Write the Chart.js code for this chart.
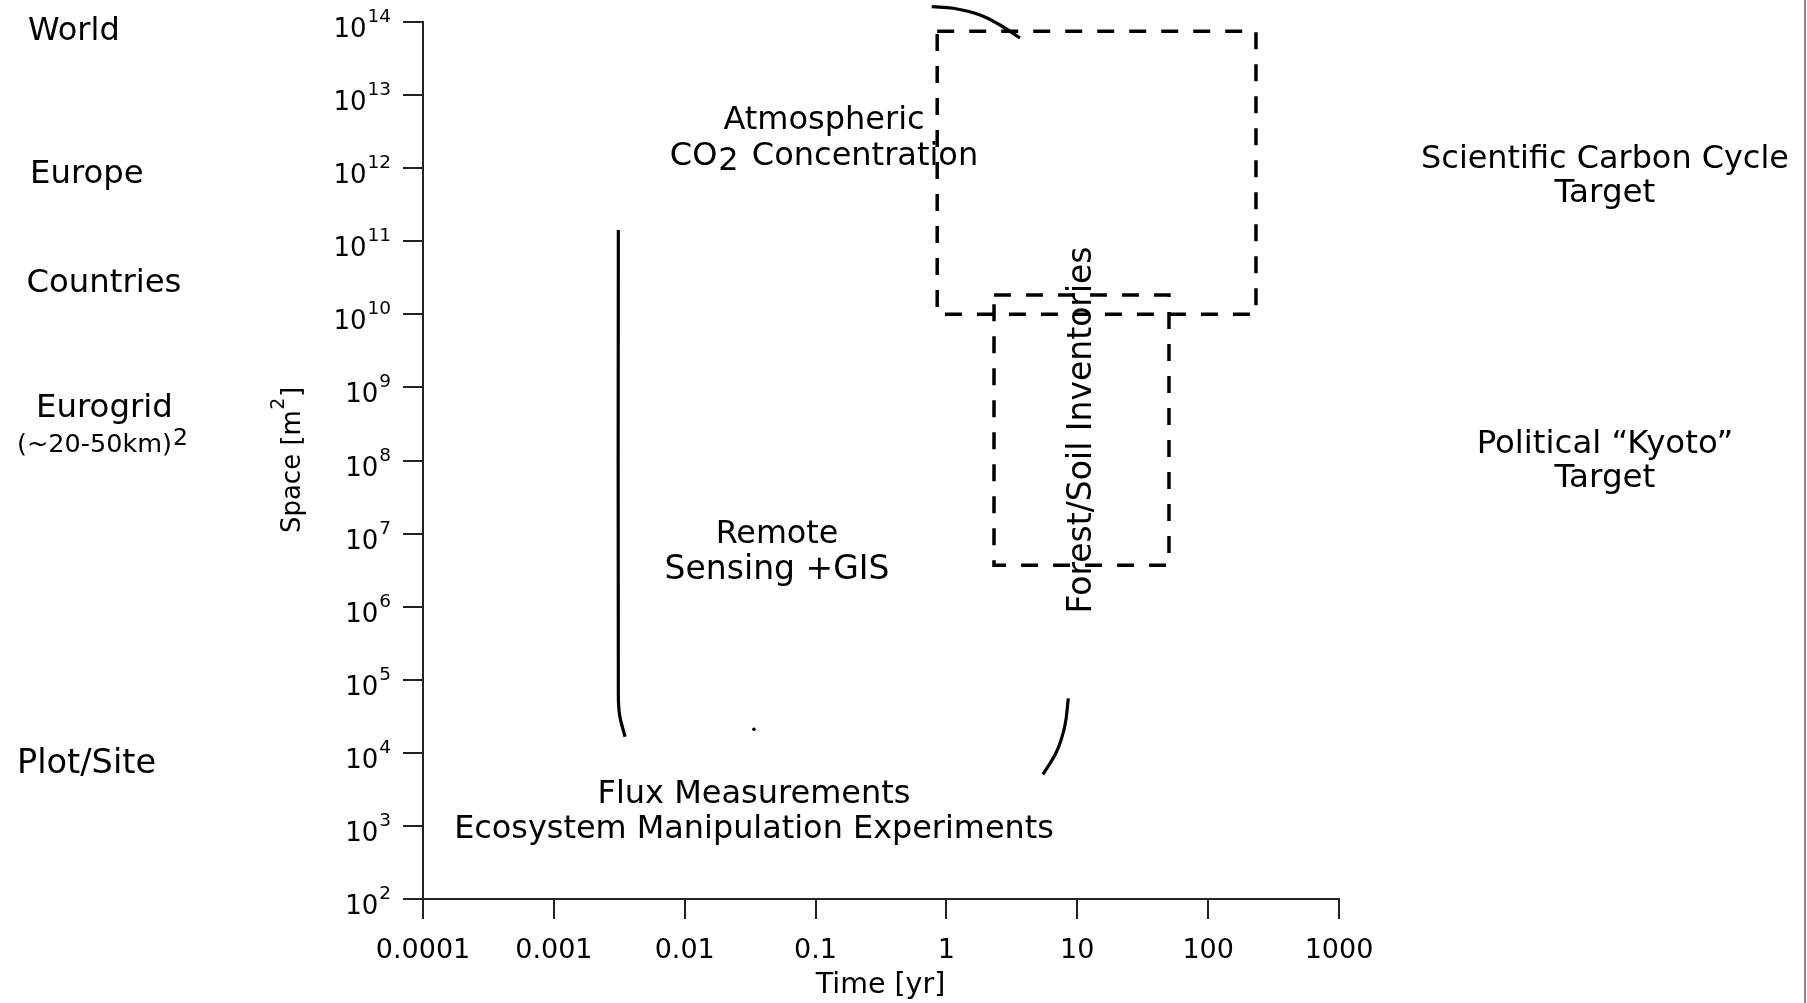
<!DOCTYPE html>
<html>
<head>
<meta charset="utf-8">
<script src="https://cdn.jsdelivr.net/npm/chart.js@4.4.1/dist/chart.umd.min.js"></script>
<style>
  html, body { margin: 0; padding: 0; background: #fff; }
  #wrap { position: relative; width: 1807px; height: 1003px; overflow: hidden; }
  #edge { position: absolute; left: 1804px; top: 0; width: 2px; height: 1003px; background: #8a8a8a; }
  canvas { display: block; }
</style>
</head>
<body>
<div id="wrap">
  <canvas id="scaleChart" width="1807" height="1003"></canvas>
  <div id="edge"></div>
</div>
<script>
// ---- axis ticks ----
const xTickValues = [0.0001, 0.001, 0.01, 0.1, 1, 10, 100, 1000];
const xTickLabels = ['0.0001', '0.001', '0.01', '0.1', '1', '10', '100', '1000'];
const yTickExponents = [2, 3, 4, 5, 6, 7, 8, 9, 10, 11, 12, 13, 14];

// ---- observation domains: time span [yr] and area span [m2] ----
const co2Time = [0.85, 232];
const co2Area = [1.0e10, 7.5e13];

const forestTime = [2.31, 50.2];
const forestArea = [3.7e6, 1.84e10];

// remote sensing bracket (left solid stroke)
const remoteTime = [0.00311, 0.00311, 0.00318, 0.0035];
const remoteArea = [1.43e11, 6.6e4, 3.3e4, 1.66e4];

// arc above the CO2 domain
const arcTopTime = [0.772, 1.128, 1.806, 2.567, 3.65];
const arcTopArea = [1.62e14, 1.54e14, 1.25e14, 9.1e13, 6.04e13];

// flux bracket (lower right arc)
const fluxArcTime = [8.54, 8.03, 6.97, 5.46];
const fluxArcArea = [5.56e4, 2.33e4, 1.05e4, 5070];

// small marker dots
const dotTime = [0.0338, 5050, 5050];
const dotArea = [2.1e4, 6.07e11, 1.58e8];

const FONT = '"DejaVu Sans", Verdana, sans-serif';
const AXIS_COLOR = '#222';

const zip = (xs, ys) => xs.map((x, i) => ({ x: x, y: ys[i] }));
const boxPath = (t, a) => [
  { x: t[0], y: a[1] }, { x: t[1], y: a[1] },
  { x: t[1], y: a[0] }, { x: t[0], y: a[0] },
  { x: t[0], y: a[1] }
];

const dashed = { borderColor: '#000', borderWidth: 3.5, borderDash: [17, 15], tension: 0,
                 pointRadius: 0, showLine: true, fill: false, clip: false, borderJoinStyle: 'miter' };
const solid = { borderColor: '#000', borderWidth: 3.2, tension: 0.4,
                pointRadius: 0, showLine: true, fill: false, clip: false, borderCapStyle: 'butt' };

const textPlugin = {
  id: 'scaleText',
  afterDraw(chart) {
    const ctx = chart.ctx;
    const xs = chart.scales.x, ys = chart.scales.y;
    const put = (str, x, y, size, align) => {
      ctx.font = size + 'px ' + FONT;
      ctx.textAlign = align || 'center';
      ctx.fillText(str, x, y);
    };
    ctx.save();
    ctx.fillStyle = '#000';
    ctx.textBaseline = 'alphabetic';

    // y tick labels as powers of ten
    const right = xs.left - 32;
    yTickExponents.forEach(e => {
      const py = ys.getPixelForValue(Math.pow(10, e));
      ctx.font = '18.5px ' + FONT;
      const sup = String(e);
      const supW = ctx.measureText(sup).width;
      put(sup, right, py, 18.5, 'right');
      put('10', right - supW - 1, py + 15, 26, 'right');
    });

    // x tick labels
    xTickValues.forEach((v, i) => {
      put(xTickLabels[i], xs.getPixelForValue(v), ys.bottom + 59, 27, 'center');
    });

    // axis titles
    put('Time [yr]', 880.5, 993, 28.5, 'center');

    ctx.save();
    ctx.translate(300, 460);
    ctx.rotate(-Math.PI / 2);
    ctx.font = '26px ' + FONT;
    const w1 = ctx.measureText('Space [m').width;
    ctx.font = '19px ' + FONT;
    const w2 = ctx.measureText('2').width;
    ctx.font = '26px ' + FONT;
    const w3 = ctx.measureText(']').width;
    const sx = -(w1 + w2 + w3 + 1) / 2;
    put('Space [m', sx, 0, 26, 'left');
    put('2', sx + w1 + 0.5, -16, 19, 'left');
    put(']', sx + w1 + w2 + 1, 0, 26, 'left');
    ctx.restore();

    // spatial scale names
    put('World', 28, 40, 32, 'left');
    put('Europe', 30, 183, 32.3, 'left');
    put('Countries', 26.5, 292, 32.3, 'left');
    put('Eurogrid', 36, 417, 32.4, 'left');
    put('Plot/Site', 17, 773, 33.6, 'left');
    ctx.font = '25.5px ' + FONT;
    const gw = ctx.measureText('(~20-50km)').width;
    put('(~20-50km)', 17, 452, 25.5, 'left');
    put('2', 17 + gw + 1, 445, 23.5, 'left');

    // domain annotations
    put('Atmospheric', 824, 128.5, 32, 'center');
    {
      ctx.font = '32px ' + FONT;
      const a = 'CO', b = '2', c = ' Concentration';
      const wa = ctx.measureText(a).width, wb = ctx.measureText(b).width, wc = ctx.measureText(c).width;
      const x0 = 824 - (wa + wb + wc + 4) / 2;
      put(a, x0, 164.5, 32, 'left');
      put(b, x0 + wa + 1, 169.5, 32, 'left');
      put(c, x0 + wa + wb + 4, 164.5, 32, 'left');
    }
    put('Remote', 777, 543, 31.8, 'center');
    put('Sensing +GIS', 777, 579, 33, 'center');
    put('Flux Measurements', 754, 803, 32, 'center');
    put('Ecosystem Manipulation Experiments', 754, 838, 31.9, 'center');
    put('Scientific Carbon Cycle', 1605, 167.5, 31.9, 'center');
    put('Target', 1605, 202, 32.6, 'center');
    put('Political \u201CKyoto\u201D', 1605, 453, 32.4, 'center');
    put('Target', 1605, 487, 32.6, 'center');

    ctx.save();
    ctx.translate(1091, 430);
    ctx.rotate(-Math.PI / 2);
    put('Forest/Soil Inventories', 0, 0, 33, 'center');
    ctx.restore();

    ctx.restore();
  }
};

new Chart(document.getElementById('scaleChart'), {
  type: 'scatter',
  data: {
    datasets: [
      Object.assign({ label: 'Atmospheric CO2', data: boxPath(co2Time, co2Area) }, dashed),
      Object.assign({ label: 'Forest/Soil Inventories', data: boxPath(forestTime, forestArea) }, dashed),
      Object.assign({ label: 'Remote Sensing', data: zip(remoteTime, remoteArea) }, solid),
      Object.assign({ label: 'Upper arc', data: zip(arcTopTime, arcTopArea) }, solid),
      Object.assign({ label: 'Flux arc', data: zip(fluxArcTime, fluxArcArea) }, solid),
      { label: 'Dots', data: zip(dotTime, dotArea), showLine: false, pointRadius: [1.8, 1.2, 1.2],
        pointBackgroundColor: '#000', pointBorderWidth: 0, clip: false }
    ]
  },
  options: {
    responsive: false,
    animation: false,
    devicePixelRatio: 1,
    layout: { padding: { left: 0, right: 468, top: 22, bottom: 0 } },
    elements: { line: { capBezierPoints: false } },
    plugins: { legend: { display: false }, tooltip: { enabled: false }, title: { display: false } },
    scales: {
      x: {
        type: 'logarithmic', min: 1e-4, max: 1e3,
        afterBuildTicks: s => { s.ticks = xTickValues.map(v => ({ value: v })); },
        afterFit: s => { s.height = 104; },
        ticks: { display: false },
        grid: { drawOnChartArea: false, drawTicks: true, tickLength: 20, color: AXIS_COLOR, lineWidth: 2 },
        border: { display: true, color: AXIS_COLOR, width: 2 }
      },
      y: {
        type: 'logarithmic', min: 1e2, max: 1e14,
        afterBuildTicks: s => { s.ticks = yTickExponents.map(e => ({ value: Math.pow(10, e) })); },
        afterFit: s => { s.width = 423; },
        ticks: { display: false },
        grid: { drawOnChartArea: false, drawTicks: true, tickLength: 20, color: AXIS_COLOR, lineWidth: 2 },
        border: { display: true, color: AXIS_COLOR, width: 2 }
      }
    }
  },
  plugins: [textPlugin]
});
</script>
</body>
</html>
